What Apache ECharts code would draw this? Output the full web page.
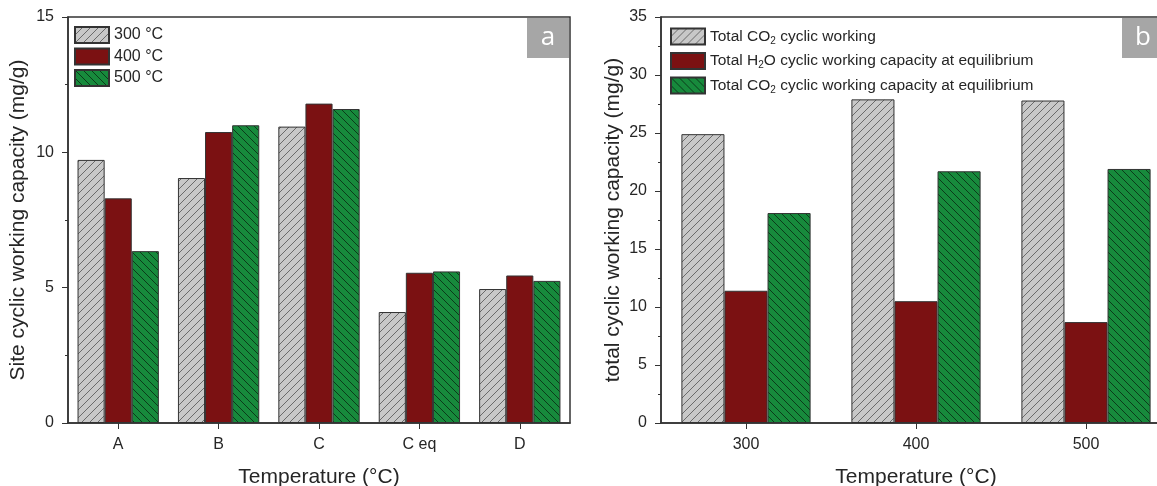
<!DOCTYPE html>
<html>
<head>
<meta charset="utf-8">
<script src="https://cdn.jsdelivr.net/npm/echarts@6/dist/echarts.min.js"></script>
<style>
  html, body { margin: 0; padding: 0; background: #fff; }
  #chart { width: 1157px; height: 486px; }
</style>
</head>
<body>
<div id="chart"></div>
<script>
// panel a: site cyclic working capacity (mg/g)
const sites = ["A", "B", "C", "C eq", "D"];
const site300 = [9.72, 9.05, 10.95, 4.1, 4.95];
const site400 = [8.3, 10.75, 11.8, 5.55, 5.45];
const site500 = [6.35, 11.0, 11.6, 5.6, 5.25];

// panel b: total cyclic working capacity (mg/g)
const temps = ["300", "400", "500"];
const totalCO2 = [24.9, 27.9, 27.8];
const totalH2OEq = [11.4, 10.5, 8.7];
const totalCO2Eq = [18.1, 21.7, 21.9];

const FONT = '"Liberation Sans", Arial, sans-serif';
const INK = "#262626";

// diagonal hatch tiles
function hatch(bg, fg, rising) {
  const s = 8;
  const c = document.createElement("canvas");
  c.width = s;
  c.height = s;
  const g = c.getContext("2d");
  g.fillStyle = bg;
  g.fillRect(0, 0, s, s);
  g.strokeStyle = fg;
  g.lineWidth = 1;
  g.beginPath();
  if (rising) {
    g.moveTo(0, s); g.lineTo(s, 0);
    g.moveTo(-2, 2); g.lineTo(2, -2);
    g.moveTo(s - 2, s + 2); g.lineTo(s + 2, s - 2);
  } else {
    g.moveTo(0, 0); g.lineTo(s, s);
    g.moveTo(-2, s - 2); g.lineTo(2, s + 2);
    g.moveTo(s - 2, -2); g.lineTo(s + 2, 2);
  }
  g.stroke();
  return c;
}

const grayFill = { image: hatch("#c8c8c8", "#6a6a6a", true), repeat: "repeat" };
const redFill = "#7b1112";
const greenFill = { image: hatch("#178a3c", "#0b3b1a", false), repeat: "repeat" };

const barBorder = { borderColor: "#333", borderWidth: 1 };

function yAxis(gridIndex, max, name, nameGap) {
  return {
    type: "value",
    gridIndex,
    min: 0,
    max,
    interval: 5,
    name,
    nameLocation: "middle",
    nameGap,
    nameTextStyle: { fontSize: 21, color: INK, fontFamily: FONT },
    axisLine: { show: true, lineStyle: { color: "#333", width: 1.5 } },
    axisTick: { show: true, inside: false, length: 6, lineStyle: { color: "#333" } },
    minorTick: { show: true, splitNumber: 2, length: 3, lineStyle: { color: "#333" } },
    splitLine: { show: false },
    axisLabel: { fontSize: 16, color: INK, fontFamily: FONT, margin: 14 },
  };
}

function xAxis(gridIndex, data) {
  return {
    type: "category",
    gridIndex,
    data,
    name: "Temperature (°C)",
    nameLocation: "middle",
    nameGap: 44,
    nameTextStyle: { fontSize: 21, color: INK, fontFamily: FONT },
    axisLine: { show: true, lineStyle: { color: "#333", width: 1.5 } },
    axisTick: { show: true, alignWithLabel: true, length: 6, lineStyle: { color: "#333" } },
    axisLabel: { fontSize: 16, color: INK, fontFamily: FONT, margin: 14 },
  };
}

const sub = {
  n: { fontSize: 15.5, color: INK, fontFamily: FONT, lineHeight: 16 },
  s: { fontSize: 10, color: INK, fontFamily: FONT, lineHeight: 16, padding: [9, 0, 0, 0] },
};

const legendNames = {
  co2: "Total CO2 cyclic working",
  h2o: "Total H2O cyclic working capacity at equilibrium",
  co2eq: "Total CO2 cyclic working capacity at equilibrium",
};
const legendRich = {
  [legendNames.co2]: "{n|Total CO}{s|2}{n| cyclic working}",
  [legendNames.h2o]: "{n|Total H}{s|2}{n|O cyclic working capacity at equilibrium}",
  [legendNames.co2eq]: "{n|Total CO}{s|2}{n| cyclic working capacity at equilibrium}",
};

function bar(name, xIdx, data, color, gap) {
  return {
    name,
    type: "bar",
    xAxisIndex: xIdx,
    yAxisIndex: xIdx,
    data,
    barGap: "0%",
    barCategoryGap: gap,
    itemStyle: Object.assign({ color }, barBorder),
  };
}

const chart = echarts.init(document.getElementById("chart"), null, { renderer: "canvas" });

chart.setOption({
  animation: false,
  backgroundColor: "#fff",
  textStyle: { fontFamily: FONT },
  grid: [
    { left: 68, top: 17, width: 502, height: 406, show: true, borderColor: "#333", borderWidth: 1.5, outerBoundsMode: "none", containLabel: false },
    { left: 661, top: 17, width: 510, height: 406, show: true, borderColor: "#333", borderWidth: 1.5, outerBoundsMode: "none", containLabel: false },
  ],
  xAxis: [xAxis(0, sites), xAxis(1, temps)],
  yAxis: [
    yAxis(0, 15, "Site cyclic working capacity (mg/g)", 39),
    yAxis(1, 35, "total cyclic working capacity (mg/g)", 37),
  ],
  legend: [
    {
      data: ["300 °C", "400 °C", "500 °C"],
      orient: "vertical",
      left: 69,
      top: 21,
      icon: "rect",
      itemWidth: 34,
      itemHeight: 16,
      itemGap: 3.5,
      textStyle: { fontSize: 16, color: INK, fontFamily: FONT, lineHeight: 16 },
    },
    {
      data: [legendNames.co2, legendNames.h2o, legendNames.co2eq],
      orient: "vertical",
      left: 665,
      top: 22,
      icon: "rect",
      itemWidth: 34,
      itemHeight: 16,
      itemGap: 5.5,
      formatter: (name) => legendRich[name],
      textStyle: { rich: sub },
    },
  ],
  graphic: [
    {
      type: "group",
      left: 527,
      top: 18,
      children: [
        { type: "rect", shape: { x: 0, y: 0, width: 42, height: 40 }, style: { fill: "#a6a6a6" } },
        { type: "text", x: 21, y: 20, style: { text: "a", fill: "#fff", fontSize: 26, fontFamily: '"Open Sans", sans-serif', align: "center", verticalAlign: "middle" } },
      ],
    },
    {
      type: "group",
      left: 1122,
      top: 18,
      children: [
        { type: "rect", shape: { x: 0, y: 0, width: 44, height: 40 }, style: { fill: "#a6a6a6" } },
        { type: "text", x: 21, y: 20, style: { text: "b", fill: "#fff", fontSize: 26, fontFamily: '"Open Sans", sans-serif', align: "center", verticalAlign: "middle" } },
      ],
    },
  ],
  series: [
    bar("300 °C", 0, site300, grayFill, "19%"),
    bar("400 °C", 0, site400, redFill, "19%"),
    bar("500 °C", 0, site500, greenFill, "19%"),
    bar(legendNames.co2, 1, totalCO2, grayFill, "24%"),
    bar(legendNames.h2o, 1, totalH2OEq, redFill, "24%"),
    bar(legendNames.co2eq, 1, totalCO2Eq, greenFill, "24%"),
  ],
});
</script>
</body>
</html>
